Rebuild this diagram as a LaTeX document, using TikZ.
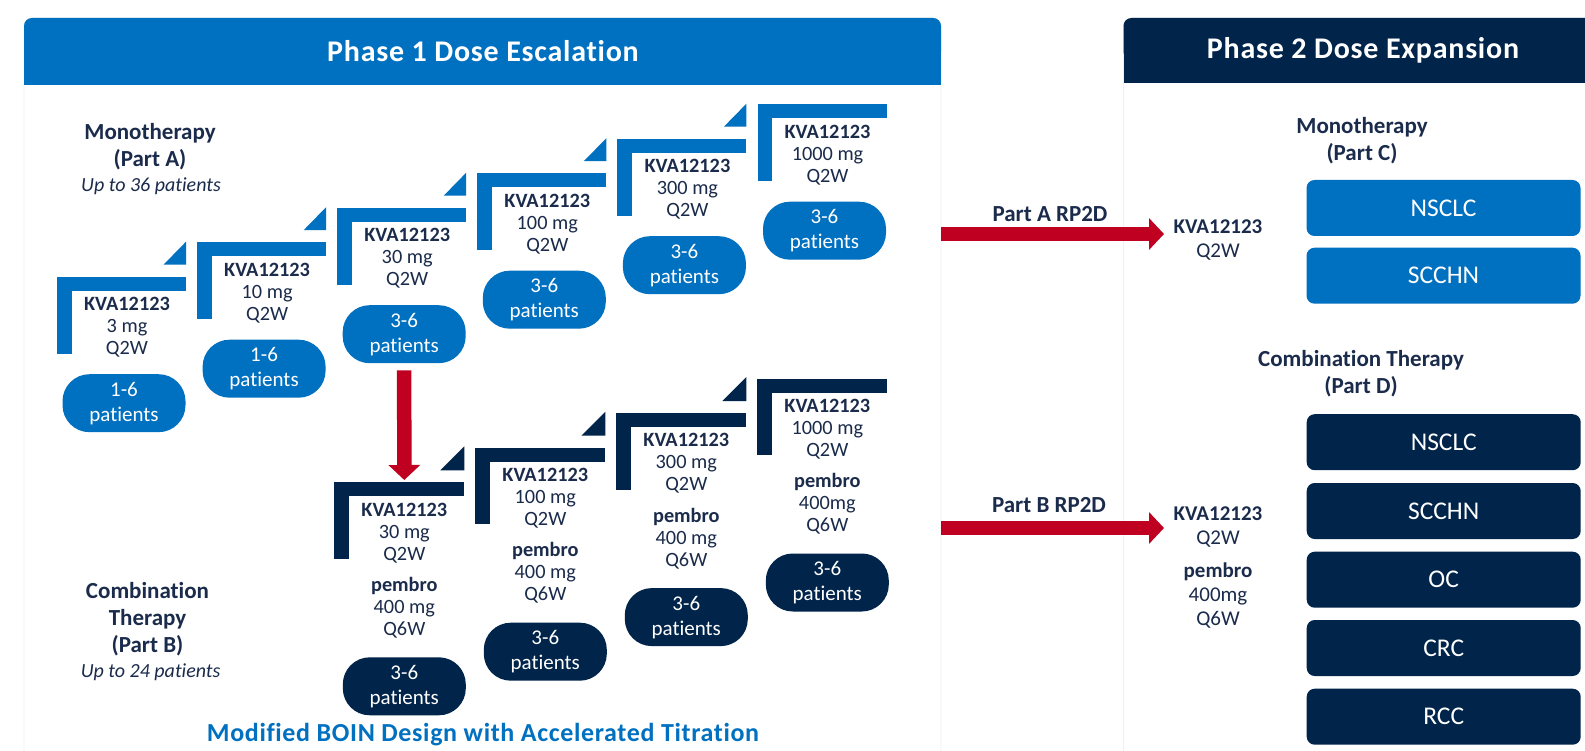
\documentclass[tikz,border=0pt]{standalone}
\usepackage{fontspec}
\setmainfont{Carlito}[Ligatures=NoCommon]
\usetikzlibrary{arrows.meta,calc}
\definecolor{pblue}{HTML}{0070C0}
\definecolor{pnavy}{HTML}{00244A}
\definecolor{ptxt}{HTML}{1B2B4B}
\definecolor{pred}{HTML}{C00021}
\definecolor{pgray}{HTML}{D6D6D6}
\begin{document}
\begin{tikzpicture}[x=1pt,y=-1pt,
  every node/.style={inner sep=0pt, text=ptxt},
  dosetext/.style={align=center, font=\fontsize{20.3}{22}\selectfont},
  dosetextR/.style={align=center, font=\fontsize{21}{24}\selectfont},
  pill/.style={rounded corners=27pt, minimum width=123pt, minimum height=58pt, align=center, text=white, font=\fontsize{21}{25}\selectfont},
  hdr/.style={text=white, font=\fontsize{30}{32}\selectfont\bfseries\addfontfeatures{LetterSpace=2.5}},
  lbl/.style={align=center, font=\fontsize{23}{27}\selectfont\bfseries},
  itl/.style={font=\fontsize{20}{22}\selectfont\itshape},
  rplbl/.style={font=\fontsize{23}{26}\selectfont\bfseries},
  tbox/.style={rounded corners=8pt, minimum width=274pt, minimum height=56pt, text=white, font=\fontsize{25.5}{28}\selectfont},
  redarrow/.style={draw=pred, line width=14.5pt, -{Triangle[width=31pt,length=15pt]}},
]
\useasboundingbox (0,0) rectangle (1585,751);
\fill[white] (0,0) rectangle (1585,751);

% Phase 1 panel
\draw[pgray, fill=white, rounded corners=8pt] (24,790) rectangle (941,18);
\fill[pblue, rounded corners=8pt] (24,18) rectangle (941,60);
\fill[pblue] (24,35) rectangle (941,85);
\node[hdr] (h1) at (483,51) {Phase 1 Dose Escalation};

% Phase 2 panel
\draw[pgray, fill=white, rounded corners=8pt] (1123.5,790) rectangle (1620,18);
\fill[pnavy, rounded corners=8pt] (1123.5,18) rectangle (1620,60);
\fill[pnavy] (1123.5,35) rectangle (1620,83);
\node[hdr] (h2) at (1363,50) {Phase 2 Dose Expansion};

% left labels
\node[lbl] (monoA) at (150,147) {Monotherapy\\(Part A)};
\node[itl] (upA) at (151,186) {Up to 36 patients};
\node[lbl] (combB) at (147.5,619.5) {Combination\\Therapy\\(Part B)};
\node[itl] (upB) at (150.6,672) {Up to 24 patients};

% top row (monotherapy)
\foreach \i/\dose/\pn in {0/3/1-6,1/10/1-6,2/30/3-6,3/100/3-6,4/300/3-6,5/1000/3-6}{
  \pgfmathsetmacro\xo{57+140.1*\i}
  \pgfmathsetmacro\yo{276.7-34.5*\i}
  \fill[pblue] (\xo,\yo) rectangle ++(129,14);
  \fill[pblue] (\xo,\yo) rectangle ++(14.5,77.3);
  \ifnum\i<5
    \fill[pblue] (\xo+129,\yo-35) -- (\xo+129,\yo-12) -- (\xo+106.5,\yo-12) -- cycle;
  \fi
  \node[dosetext] (kA\i) at (\xo+70,\yo+50.5) {\textbf{KVA12123}\\\dose{} mg\\Q2W};
  \node[pill, fill=pblue] (pA\i) at (\xo+67,\yo+126.5) {\pn\\patients};
}

% bottom row (combination)
\foreach \i/\dose/\pd in {0/30/400 mg,1/100/400 mg,2/300/400 mg,3/1000/400mg}{
  \pgfmathsetmacro\xo{334.3+141*\i}
  \pgfmathsetmacro\yo{482.3-34.6*\i}
  \fill[pnavy] (\xo,\yo) rectangle ++(130,14);
  \fill[pnavy] (\xo,\yo) rectangle ++(14.5,76.5);
  \ifnum\i<3
    \fill[pnavy] (\xo+130,\yo-36) -- (\xo+130,\yo-12) -- (\xo+106,\yo-12) -- cycle;
  \fi
  \node[dosetext] (kB\i) at (\xo+70,\yo+50.5) {\textbf{KVA12123}\\\dose{} mg\\Q2W};
  \node[dosetext] (mB\i) at (\xo+70,\yo+125.5) {\textbf{pembro}\\\pd\\Q6W};
  \node[pill, fill=pnavy] (pB\i) at (\xo+70,\yo+204) {3-6\\patients};
}

\node[font=\fontsize{26}{28}\selectfont\bfseries\addfontfeatures{LetterSpace=2.5}, text=pblue] (boin) at (483,735) {Modified BOIN Design with Accelerated Titration};

% right side
\node[lbl] (monoC) at (1362,140.5) {Monotherapy\\(Part C)};
\node[lbl] (combD) at (1361,374) {Combination Therapy\\(Part D)};
\node[dosetextR] (kvaA) at (1218,240) {\textbf{KVA12123}\\Q2W};
\node[dosetextR] (kvaB) at (1218,527) {\textbf{KVA12123}\\Q2W};
\node[dosetextR] (pemB) at (1218,596) {\textbf{pembro}\\400mg\\Q6W};

\node[tbox, fill=pblue] (c1) at (1443.5,208) {NSCLC};
\node[tbox, fill=pblue] (c2) at (1443.5,275.7) {SCCHN};
\node[tbox, fill=pnavy] (d1) at (1443.7,442.2) {NSCLC};
\node[tbox, fill=pnavy] (d2) at (1443.7,511) {SCCHN};
\node[tbox, fill=pnavy] (d3) at (1443.7,579.7) {OC};
\node[tbox, fill=pnavy] (d4) at (1443.7,648) {CRC};
\node[tbox, fill=pnavy] (d5) at (1443.7,716.7) {RCC};

% arrows
\coordinate (b1top) at (404.3,480);
\draw[redarrow] ([yshift=-7pt]pA2.south) -- (b1top);

\coordinate (aStart) at (941,234);
\coordinate (aTip) at (1164,234);
\draw[redarrow] (aStart) -- (aTip);
\node[rplbl] (rpA) at (1050,214) {Part A RP2D};

\coordinate (bStart) at (941,528);
\coordinate (bTip) at (1164,528);
\draw[redarrow] (bStart) -- (bTip);
\node[rplbl] (rpB) at (1049,505.5) {Part B RP2D};
\end{tikzpicture}
\end{document}
